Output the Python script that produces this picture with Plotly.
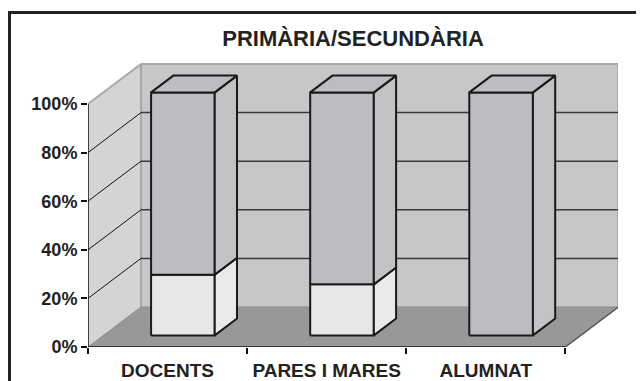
import plotly.graph_objects as go

# ---- data ----
categories = ["DOCENTS", "PARES I MARES", "ALUMNAT"]
lower_values = [25, 21, 0]      # light segment (%)
upper_values = [75, 79, 100]    # grey segment (%)
tick_values = [0, 20, 40, 60, 80, 100]
tick_labels = [f"{v}%" for v in tick_values]
title_text = "PRIMÀRIA/SECUNDÀRIA"

# ---- 3D projection parameters (style) ----
D = 0.333      # depth shift in x units
E = 16.46      # depth shift in y units
W = 0.40       # bar width
Z0, Z1 = 0.29, 0.71   # bar front / back depth fractions
X0, X1 = -0.5, len(categories) - 0.5

def proj(x, y, z):
    return x + z * D, y + z * E

fig = go.Figure()

def poly(pts, fill, line_color=None, line_width=0):
    xs = [p[0] for p in pts] + [pts[0][0]]
    ys = [p[1] for p in pts] + [pts[0][1]]
    fig.add_trace(go.Scatter(
        x=xs, y=ys, mode="lines", fill="toself", fillcolor=fill,
        line=dict(color=line_color or fill, width=line_width),
        hoverinfo="skip", showlegend=False))

def lines(segs, color, width):
    xs, ys = [], []
    for (a, b) in segs:
        xs += [a[0], b[0], None]
        ys += [a[1], b[1], None]
    fig.add_trace(go.Scatter(x=xs, y=ys, mode="lines",
                             line=dict(color=color, width=width),
                             hoverinfo="skip", showlegend=False))

ymax = max(tick_values)
# side wall
poly([proj(X0, 0, 0), proj(X0, ymax, 0), proj(X0, ymax, 1), proj(X0, 0, 1)], "#d3d4d6")
# back wall
poly([proj(X0, 0, 1), proj(X1, 0, 1), proj(X1, ymax, 1), proj(X0, ymax, 1)], "#c6c7c9")
# floor
poly([proj(X0, 0, 0), proj(X1, 0, 0), proj(X1, 0, 1), proj(X0, 0, 1)], "#97989a")

# wall edges
lines([(proj(X0, ymax, 0), proj(X0, ymax, 1)),
       (proj(X0, ymax, 1), proj(X1, ymax, 1)),
       (proj(X1, ymax, 1), proj(X1, 0, 1)),
       (proj(X0, 0, 1), proj(X0, ymax, 1))], "#a6a7a9", 2)
lines([(proj(X0, 0, 0), proj(X0, 0, 1)), (proj(X0, 0, 1), proj(X1, 0, 1))], "#8a8b8d", 1)
lines([(proj(X1, 0, 0), proj(X1, 0, 1))], "#555555", 1.5)

# gridlines
inner = [v for v in tick_values if 0 < v < ymax]
lines([(proj(X0, v, 0), proj(X0, v, 1)) for v in inner], "#111111", 1)
lines([(proj(X0, v, 1), proj(X1, v, 1)) for v in inner], "#3a3a3a", 1.5)

# axes lines
lines([(proj(X0, 0, 0), proj(X0, ymax, 0))], "#111111", 1.5)
lines([(proj(X0, 0, 0), proj(X1, 0, 0))], "#111111", 1.5)

# bars
for i, cat in enumerate(categories):
    segs = [(0, lower_values[i], "#e6e7e8", "#e9eaeb"),
            (lower_values[i], lower_values[i] + upper_values[i], "#bcbdc0", "#c2c3c5")]
    xl, xr = i - W / 2, i + W / 2
    top = lower_values[i] + upper_values[i]
    for b, t, cfront, cside in segs:
        if t - b <= 0:
            continue
        poly([proj(xl, b, Z0), proj(xr, b, Z0), proj(xr, t, Z0), proj(xl, t, Z0)],
             cfront, "#1a1a1a", 2)
        poly([proj(xr, b, Z0), proj(xr, b, Z1), proj(xr, t, Z1), proj(xr, t, Z0)],
             cside, "#1a1a1a", 2)
    poly([proj(xl, top, Z0), proj(xr, top, Z0), proj(xr, top, Z1), proj(xl, top, Z1)],
         "#bcbdc0", "#1a1a1a", 2)

font_family = "Liberation Sans, Arial, sans-serif"
# page body has an 8px margin; figure coordinates = visible - 8
FW, FH = 636, 373
L, T = 80, 55
R = FW - (618 - 8)
B = FH - (347 - 8)
pw, ph = FW - L - R, FH - T - B

fig.update_layout(
    width=FW, height=FH,
    margin=dict(l=L, r=R, t=T, b=B, autoexpand=False),
    paper_bgcolor="white", plot_bgcolor="white",
    showlegend=False,
    title=dict(text=f"<b>{title_text}</b>", x=0.5, xref="paper",
               y=1 - 30 / FH, yref="container", yanchor="middle",
               font=dict(family=font_family, size=22, color="#222222")),
    xaxis=dict(range=[X0, X0 + pw / 159.1], showgrid=False, zeroline=False,
               showline=False, automargin=False,
               tickvals=list(range(len(categories))),
               ticktext=[f"<b>{c}</b>" for c in categories], ticks="",
               ticklabelstandoff=10,
               minor=dict(tickvals=[X0 + k for k in range(len(categories) + 1)],
                          ticks="outside", ticklen=6, tickcolor="#111111", tickwidth=1.5),
               tickfont=dict(family=font_family, size=19, color="#222222"),
               fixedrange=True),
    yaxis=dict(range=[0, ph / 2.43], showgrid=False, zeroline=False,
               showline=False, automargin=False, tickvals=tick_values,
               ticktext=[f"<b>{t}</b>" for t in tick_labels],
               ticks="outside", ticklen=6, tickcolor="#111111", tickwidth=1.5,
               tickfont=dict(family=font_family, size=18, color="#222222"),
               fixedrange=True),
    shapes=[
        dict(type="line", xref="paper", yref="paper",
             x0=(1.5 - L) / pw, x1=(1.5 - L) / pw,
             y0=-0.3, y1=(FH - B - 4.5) / ph,
             line=dict(color="#222222", width=3)),
        dict(type="line", xref="paper", yref="paper",
             x0=(0 - L) / pw, x1=1.2,
             y0=(FH - B - 4.5) / ph, y1=(FH - B - 4.5) / ph,
             line=dict(color="#222222", width=3)),
    ],
)

fig.write_html("out.html")
